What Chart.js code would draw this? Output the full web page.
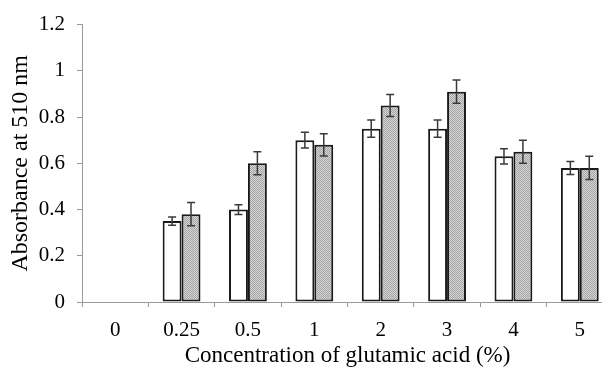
<!DOCTYPE html>
<html>
<head>
<meta charset="utf-8">
<script src="https://cdn.jsdelivr.net/npm/chart.js@4"></script>
<style>
html,body{margin:0;padding:0;background:#fff;overflow:hidden;width:602px;height:367px;}
#wrap{width:622px;height:367px;position:relative;}
</style>
</head>
<body>
<div id="wrap"><canvas id="c" width="622" height="367"></canvas></div>
<script>
const categories = ["0", "0.25", "0.5", "1", "2", "3", "4", "5"];
const whiteValues = [null, 0.35, 0.40, 0.70, 0.75, 0.75, 0.63, 0.58];
const whiteErrors = [null, 0.018, 0.021, 0.034, 0.037, 0.037, 0.033, 0.028];
const grayValues = [null, 0.38, 0.60, 0.68, 0.85, 0.91, 0.65, 0.58];
const grayErrors = [null, 0.05, 0.05, 0.048, 0.048, 0.05, 0.05, 0.05];
const yTicks = [0, 0.2, 0.4, 0.6, 0.8, 1, 1.2];

function makePattern() {
  const p = document.createElement('canvas');
  p.width = 2; p.height = 2;
  const g = p.getContext('2d');
  g.fillStyle = '#d6d6d6'; g.fillRect(0, 0, 2, 2);
  g.fillStyle = '#a4a4a4'; g.fillRect(0, 0, 1, 1); g.fillRect(1, 1, 1, 1);
  return document.getElementById('c').getContext('2d').createPattern(p, 'repeat');
}

const errorPlugin = {
  id: 'errbars',
  afterDatasetsDraw(chart) {
    const ctx = chart.ctx;
    const y = chart.scales.y;
    chart.data.datasets.forEach((ds, i) => {
      const meta = chart.getDatasetMeta(i);
      meta.data.forEach((bar, j) => {
        const v = ds.data[j];
        const e = ds.errors[j];
        if (v == null || e == null) return;
        const x = bar.x;
        const top = y.getPixelForValue(v + e);
        const bot = y.getPixelForValue(v - e);
        ctx.save();
        ctx.strokeStyle = '#3a3a3a';
        ctx.lineWidth = 1.5;
        ctx.beginPath();
        ctx.moveTo(x, top); ctx.lineTo(x, bot);
        ctx.moveTo(x - 4, top); ctx.lineTo(x + 4, top);
        ctx.moveTo(x - 4, bot); ctx.lineTo(x + 4, bot);
        ctx.stroke();
        ctx.restore();
      });
    });
  }
};

const font = "'Liberation Serif', 'Times New Roman', serif";

new Chart(document.getElementById('c'), {
  type: 'bar',
  data: {
    labels: categories,
    datasets: [
      { label: 'A', data: whiteValues, errors: whiteErrors, backgroundColor: '#ffffff', borderColor: '#1a1a1a', borderWidth: 2, borderSkipped: false },
      { label: 'B', data: grayValues, errors: grayErrors, backgroundColor: makePattern(), borderColor: '#1a1a1a', borderWidth: 2, borderSkipped: false }
    ]
  },
  options: {
    responsive: false,
    animation: false,
    devicePixelRatio: 1,
    layout: { padding: { top: 18, right: 9, left: 0, bottom: 0 } },
    datasets: { bar: { categoryPercentage: 0.57, barPercentage: 1.0 } },
    plugins: { legend: { display: false }, tooltip: { enabled: false } },
    scales: {
      x: {
        offset: true,
        grid: { offset: true, drawOnChartArea: false, tickLength: 5, color: '#9a9a9a', lineWidth: 1 },
        border: { color: '#9a9a9a', width: 1 },
        ticks: { color: '#000', font: { family: font, size: 21 }, padding: 11, maxRotation: 0 },
        title: { display: true, text: 'Concentration of glutamic acid (%)', color: '#000', font: { family: font, size: 23 }, padding: { top: 0, bottom: -3 } },
        afterFit(s) { s.height = 65; }
      },
      y: {
        min: 0, max: 1.2,
        afterBuildTicks(s) { s.ticks = yTicks.map(v => ({ value: v })); },
        grid: { drawOnChartArea: false, tickLength: 5, color: '#9a9a9a', lineWidth: 1 },
        border: { color: '#9a9a9a', width: 1 },
        ticks: { color: '#000', font: { family: font, size: 21 }, padding: 12, callback: (v) => String(v) },
        title: { display: true, text: 'Absorbance at 510 nm', color: '#000', font: { family: font, size: 24 }, padding: { top: 6, bottom: 0 } },
        afterFit(s) { s.width = 82; }
      }
    }
  },
  plugins: [errorPlugin]
});
</script>
</body>
</html>
